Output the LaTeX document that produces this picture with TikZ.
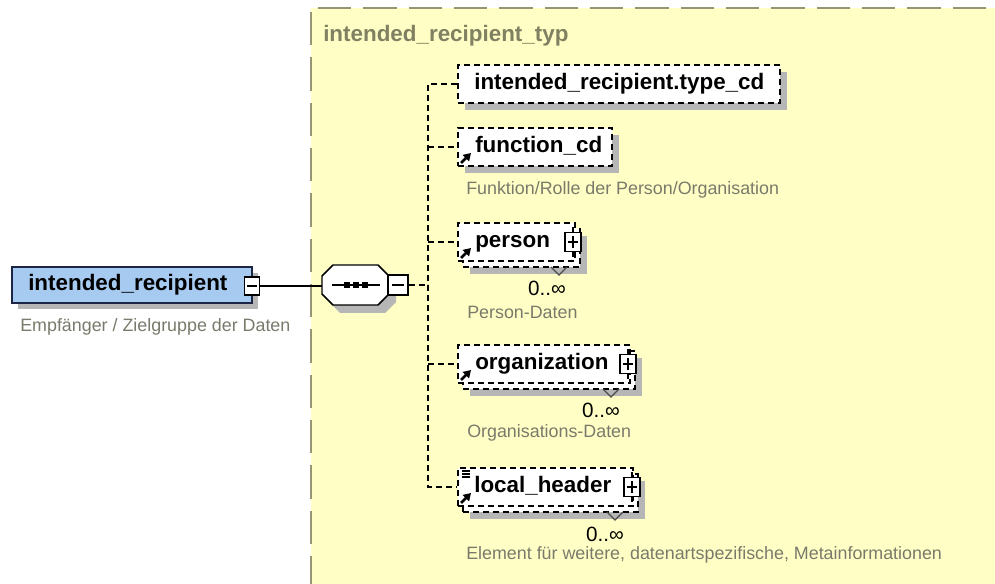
\documentclass[tikz,border=0pt]{standalone}
\usepackage{fontspec}
\setmainfont{Liberation Sans}
\usetikzlibrary{arrows.meta,calc}
\definecolor{schemayellow}{RGB}{255,255,197}
\definecolor{schemaframe}{RGB}{150,150,118}
\definecolor{typetitle}{RGB}{128,128,98}
\definecolor{desctext}{RGB}{122,122,108}
\definecolor{elemblue}{RGB}{166,202,240}
\definecolor{elemframe}{RGB}{28,38,68}
\definecolor{shadowgray}{RGB}{182,182,182}
\begin{document}
\begin{tikzpicture}[x=0.75pt,y=-0.75pt,
  elem/.style={draw=black, line width=1.3pt, dash pattern=on 4.5pt off 3pt,
    fill=white, inner sep=0, minimum height=38*0.75pt},
  lbl/.style={font=\fontsize{16.8}{18}\selectfont\bfseries, inner sep=0,
    anchor=west, text height=12pt, text depth=3.5pt},
  desc/.style={font=\fontsize{13.4}{15}\selectfont, text=desctext,
    inner sep=0, anchor=west},
  occ/.style={font=\fontsize{15.5}{16}\selectfont, inner sep=0},
  btn/.style={draw=black, line width=0.9pt, fill=white, inner sep=0,
    minimum width=16*0.75pt, minimum height=19*0.75pt},
  spine/.style={line width=1.3pt, dash pattern=on 4.5pt off 3pt},
  refarrow/.style={line width=2pt, -{Triangle[length=5.5pt,width=6.5pt]}},
  chev/.style={line width=0.9pt, draw=black!70},
  shade/.style={fill=shadowgray, draw=none}]

% canvas
\useasboundingbox (0,0) rectangle (995,584);
\fill[white] (0,0) rectangle (995,584);

% complex type area
\fill[schemayellow] (311,8) rectangle (995,584);
\draw[schemaframe, line width=1.5pt, dash pattern=on 25pt off 9pt] (318,8) -- (995,8);
\draw[schemaframe, line width=1.5pt, dash pattern=on 25pt off 9pt] (311,12) -- (311,584);
\node[font=\fontsize{16.8}{18}\selectfont\bfseries, text=typetitle, inner sep=0,
  anchor=west] (typ) at (323,36) {intended\_recipient\_typ};

% root element
\fill[shade] (18,273) rectangle (258,309);
\node[draw=elemframe, line width=1.2pt, fill=elemblue, minimum width=240*0.75pt,
  minimum height=36*0.75pt, inner sep=0] (ir) at (132,285) {};
\node[lbl] (irt) at (28,285) {intended\_recipient};
\node[btn, minimum width=15*0.75pt, minimum height=18*0.75pt] (irm) at (252,286) {};
\draw[line width=0.9pt] ($(irm.center)+(-5,0)$) -- ($(irm.center)+(5,0)$);
\node[desc] (ird) at (20,327) {Empfänger / Zielgruppe der Daten};

% sequence compositor
\fill[shade] (329,284) -- (340,273) -- (385,273) -- (396,284) -- (396,302)
  -- (385,313) -- (340,313) -- (329,302) -- cycle;
\node[minimum width=67*0.75pt, minimum height=40*0.75pt, inner sep=0] (seq) at (355.5,285) {};
\draw[line width=1.1pt, fill=white] (322,276) -- (333,265) -- (378,265) -- (389,276)
  -- (389,294) -- (378,305) -- (333,305) -- (322,294) -- cycle;
\draw[line width=1pt] (332,285) -- (380,285);
\fill (344,282) rectangle (350,288);
\fill (353,282) rectangle (359,288);
\fill (362,282) rectangle (368,288);
\node[btn, minimum width=20*0.75pt, minimum height=20*0.75pt] (seqm) at (398,285) {};
\draw[line width=0.9pt] ($(seqm.center)+(-6,0)$) -- ($(seqm.center)+(6,0)$);
\coordinate (hub) at (428,285);

\draw[line width=1.1pt] (irm.east) -- (irm.east -| seq.west);

% intended_recipient.type_cd
\fill[shade] (465,72) rectangle (787,110);
\node[elem, minimum width=322*0.75pt] (tcd) at (619,84) {};
\node[lbl] (tcdt) at (474,84) {intended\_recipient.type\_cd};

% function_cd
\fill[shade] (465,135) rectangle (619,173);
\node[elem, minimum width=154*0.75pt] (fcd) at (535,147) {};
\node[lbl] (fcdt) at (475,147) {function\_cd};
\draw[refarrow] (461,163) -- (471,153);
\node[desc] (fcdd) at (466,190) {Funktion/Rolle der Person/Organisation};

% person
\fill[shade] (470,236) rectangle (587,274);
\node[elem, minimum width=117*0.75pt] (perb) at (521.5,248) {};
\node[elem, minimum width=117*0.75pt] (per) at (516.5,242) {};
\node[lbl] (pert) at (475,242) {person};
\draw[refarrow] (461,258) -- (471,248);
\node[btn] (perp) at (573,242) {};
\draw[line width=0.9pt] ($(perp.center)+(-5,0)$) -- ($(perp.center)+(5,0)$)
  ($(perp.center)+(0,-6)$) -- ($(perp.center)+(0,6)$);
\draw[line width=0.9pt] (perp.north) -- ++(0,-5) (perp.south) -- ++(0,5);
\draw[chev] (551,267) -- (559,275) -- (567,267);
\node[occ] (pero) at (547,288) {0..∞};
\node[desc] (perd) at (467,312) {Person-Daten};

% organization
\fill[shade] (470,358) rectangle (642,396);
\node[elem, minimum width=172*0.75pt] (orgb) at (549,370) {};
\node[elem, minimum width=172*0.75pt] (org) at (544,364) {};
\node[lbl] (orgt) at (475,364) {organization};
\draw[refarrow] (461,380) -- (471,370);
\node[btn] (orgp) at (628,364) {};
\draw[line width=0.9pt] ($(orgp.center)+(-5,0)$) -- ($(orgp.center)+(5,0)$)
  ($(orgp.center)+(0,-6)$) -- ($(orgp.center)+(0,6)$);
\draw[line width=0.9pt] (orgp.north) -- ++(0,-5) (orgp.south) -- ++(0,5);
\draw[chev] (603,389) -- (611,397) -- (619,389);
\node[occ] (orgo) at (601,410) {0..∞};
\node[desc] (orgd) at (467,433) {Organisations-Daten};

% local_header
\fill[shade] (470,481) rectangle (645,519);
\node[elem, minimum width=175*0.75pt] (lhb) at (550.5,493) {};
\node[elem, minimum width=175*0.75pt] (lh) at (545.5,487) {};
\node[lbl] (lht) at (474,487) {local\_header};
\draw[refarrow] (461,503) -- (471,493);
\draw[line width=0.8pt] (462,471) -- (470,471) (462,474) -- (470,474) (462,477) -- (470,477);
\node[btn] (lhp) at (632,487) {};
\draw[line width=0.9pt] ($(lhp.center)+(-5,0)$) -- ($(lhp.center)+(5,0)$)
  ($(lhp.center)+(0,-6)$) -- ($(lhp.center)+(0,6)$);
\draw[line width=0.9pt] (lhp.north) -- ++(0,-5) (lhp.south) -- ++(0,5);
\draw[chev] (607,512) -- (615,520) -- (623,512);
\node[occ] (lho) at (605,534) {0..∞};
\node[desc] (lhd) at (466,555) {Element für weitere, datenartspezifische, Metainformationen};

% sequence branches
\draw[spine] (seqm.east) -- (hub);
\draw[spine] (tcd.west) -| (hub) |- (lh.west);
\draw[spine] (hub |- fcd.west) -- (fcd.west);
\draw[spine] (hub |- per.west) -- (per.west);
\draw[spine] (hub |- org.west) -- (org.west);
\end{tikzpicture}
\end{document}
